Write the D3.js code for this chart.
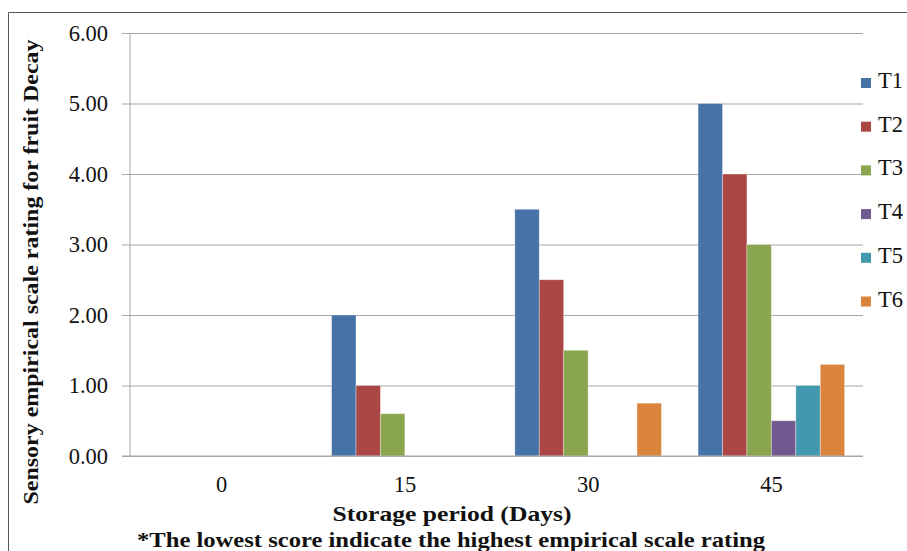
<!DOCTYPE html>
<html>
<head>
<meta charset="utf-8">
<script src="https://cdn.jsdelivr.net/npm/d3@7"></script>
<style>
  html, body { margin: 0; padding: 0; background: #fff; }
  svg text { font-family: "Liberation Serif", "Times New Roman", serif; }
</style>
</head>
<body>
<svg id="chart" width="907" height="551"></svg>
<script>
// Storage days on the x axis
const categories = ["0", "15", "30", "45"];
// Treatment names
const seriesNames = ["T1", "T2", "T3", "T4", "T5", "T6"];
// Decay rating per treatment, one value per storage day
const T1 = [0, 2.0, 3.5, 5.0];
const T2 = [0, 1.0, 2.5, 4.0];
const T3 = [0, 0.6, 1.5, 3.0];
const T4 = [0, 0, 0, 0.5];
const T5 = [0, 0, 0, 1.0];
const T6 = [0, 0, 0.75, 1.3];
const yTicks = [0, 1, 2, 3, 4, 5, 6];
const colors = ["#4572A7", "#AA4643", "#89A54E", "#71588F", "#4198AF", "#DB843D"];

const seriesValues = [T1, T2, T3, T4, T5, T6];
const rows = categories.map((c, i) => ({
  cat: c,
  vals: seriesNames.map((s, j) => ({ key: s, value: seriesValues[j][i] }))
}));

const svg = d3.select("#chart");
const plot = { left: 130, right: 863, top: 33, bottom: 456 };
const labelSize = 22.5;

// Outer frame (top and left edges)
svg.append("line").attr("x1", 8.5).attr("x2", 907).attr("y1", 12.5).attr("y2", 12.5)
  .attr("stroke", "#555").attr("stroke-width", 1);
svg.append("line").attr("x1", 8.5).attr("x2", 8.5).attr("y1", 12.5).attr("y2", 551)
  .attr("stroke", "#555").attr("stroke-width", 1);

const x = d3.scaleBand().domain(categories).range([plot.left, plot.right]).padding(0);
const xs = d3.scaleBand().domain(seriesNames).range([0, x.bandwidth()])
  .paddingInner(0).paddingOuter(0.75);
const y = d3.scaleLinear().domain([0, 6]).range([plot.bottom, plot.top]);

// Horizontal gridlines
svg.append("g")
  .attr("transform", `translate(${plot.left},0)`)
  .call(d3.axisLeft(y).tickValues(yTicks).tickSize(-(plot.right - plot.left)).tickFormat(""))
  .call(g => g.select(".domain").remove())
  .call(g => g.selectAll("line").attr("stroke", "#a6a6a6"));

// Bars
const groups = svg.append("g").selectAll("g").data(rows).join("g")
  .attr("transform", d => `translate(${x(d.cat)},0)`);
groups.selectAll("rect").data(d => d.vals.filter(v => v.value > 0)).join("rect")
  .attr("x", d => xs(d.key))
  .attr("width", xs.bandwidth())
  .attr("y", d => y(d.value))
  .attr("height", d => y(0) - y(d.value))
  .attr("fill", (d) => colors[seriesNames.indexOf(d.key)])
  .attr("stroke", "rgba(255,255,255,0.45)")
  .attr("stroke-width", 0.8);

// Y axis with outward ticks
const yAxis = svg.append("g")
  .attr("transform", `translate(${plot.left},0)`)
  .call(d3.axisLeft(y).tickValues(yTicks).tickSize(8).tickPadding(14).tickFormat(d3.format(".2f")));
yAxis.select(".domain").attr("stroke", "#a6a6a6").attr("d", `M0,${plot.top}V${plot.bottom}`);
yAxis.selectAll(".tick line").attr("stroke", "#a6a6a6");
yAxis.selectAll("text").attr("font-size", labelSize).attr("fill", "#111");

// X axis
const xAxis = svg.append("g")
  .attr("transform", `translate(0,${plot.bottom})`)
  .call(d3.axisBottom(x).tickSize(0).tickPadding(20));
xAxis.select(".domain").attr("stroke", "#a6a6a6").attr("d", `M${plot.left - 8},0H${plot.right}`);
xAxis.selectAll("text").attr("font-size", labelSize).attr("fill", "#111");

// Axis titles and footnote
svg.append("text")
  .attr("transform", "translate(38,272) rotate(-90)")
  .attr("text-anchor", "middle")
  .attr("font-weight", "bold").attr("font-size", 21).attr("fill", "#111")
  .attr("textLength", 465).attr("lengthAdjust", "spacingAndGlyphs")
  .text("Sensory empirical scale rating for fruit Decay");

svg.append("text")
  .attr("x", 452).attr("y", 521)
  .attr("text-anchor", "middle")
  .attr("font-weight", "bold").attr("font-size", 21).attr("fill", "#111")
  .attr("textLength", 239).attr("lengthAdjust", "spacingAndGlyphs")
  .text("Storage period  (Days)");

svg.append("text")
  .attr("x", 451).attr("y", 547)
  .attr("text-anchor", "middle")
  .attr("font-weight", "bold").attr("font-size", 22).attr("fill", "#111")
  .attr("textLength", 628).attr("lengthAdjust", "spacingAndGlyphs")
  .text("*The lowest score indicate the highest empirical scale rating");

// Legend
const legend = svg.append("g").selectAll("g").data(seriesNames).join("g")
  .attr("transform", (d, i) => `translate(861,${83 + i * 43.7})`);
legend.append("rect")
  .attr("x", 0).attr("y", -5).attr("width", 10).attr("height", 10)
  .attr("fill", (d, i) => colors[i]);
legend.append("text")
  .attr("x", 17).attr("y", 5)
  .attr("font-size", labelSize).attr("fill", "#111")
  .text(d => d);
</script>
</body>
</html>
